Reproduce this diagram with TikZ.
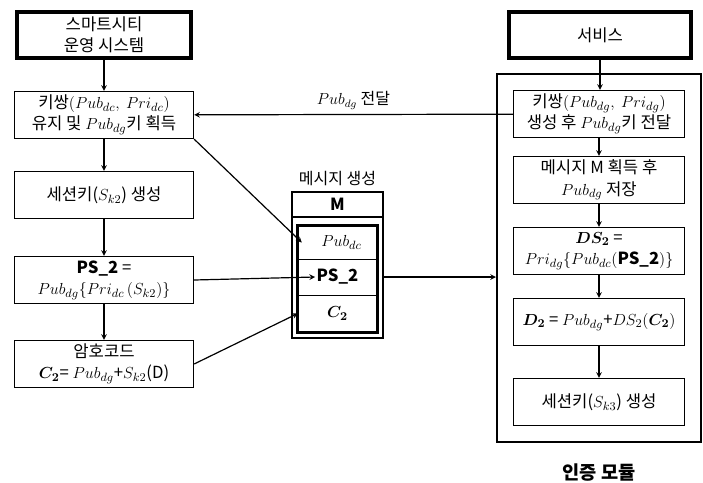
\documentclass[tikz,border=0pt]{standalone}
\usepackage{amsmath}
\usepackage{fontspec}
\setmainfont{Noto Sans CJK KR}
\usetikzlibrary{arrows.meta}

\begin{document}
\begin{tikzpicture}[x=0.75pt, y=-0.75pt,
  flowbox/.style={rectangle, draw, line width=1.2pt, fill=white, align=center, minimum height=35pt, inner sep=1pt, font=\fontsize{12.5}{16}\selectfont},
  leftbox/.style={flowbox, minimum width=134pt},
  rightbox/.style={flowbox, minimum width=128pt},
  topbox/.style={flowbox, line width=3.2pt, minimum height=34pt},
  msgrow/.style={rectangle, draw, line width=0.6pt, minimum width=59pt, inner sep=0pt, font=\fontsize{12.5}{15}\selectfont},
  arrow/.style={->, >=stealth, line width=0.9pt}
]
  \useasboundingbox (0,0) rectangle (703,482);

  % left column
  \node[topbox, minimum width=131pt] (city) at (104,35) {스마트시티\\운영 시스템};
  \node[leftbox] (keypair) at (104,115) {키쌍$(Pub_{dc},\ Pri_{dc})$\\유지 및 $Pub_{dg}$키 획득};
  \node[leftbox] (session) at (104,195) {세션키($S_{k2}$) 생성};
  \node[leftbox] (ps) at (104,280) {\textbf{PS\_2} =\\$Pub_{dg}\{Pri_{dc}\,(S_{k2})\}$};
  \node[leftbox] (cipher) at (104,364) {암호코드\\$\boldsymbol{C_2}$= $Pub_{dg}$+$S_{k2}$(D)};

  % message M
  \node[draw, line width=1.5pt, minimum width=68pt, minimum height=109pt] (mframe) at (337.5,265) {};
  \node[draw, line width=1.5pt, minimum width=68pt, minimum height=19pt, inner sep=0pt, font=\fontsize{12.5}{15}\selectfont\bfseries] (mhead) at (337.5,204.5) {M};
  \node[font=\fontsize{12}{15}\selectfont, anchor=south] (mlabel) at (mhead.north) {메시지 생성};
  \node[msgrow, minimum height=25pt] (mpub) at (337.5,242.5) {\hspace{6pt}$Pub_{dc}$};
  \node[msgrow, minimum height=27pt] (mps) at (337.5,277) {\textbf{PS\_2}};
  \node[msgrow, minimum height=27.5pt] (mc) at (337.5,313.5) {$\boldsymbol{C_2}$};
  \draw[line width=2pt] (mpub.north west) rectangle (mc.south east);

  % authentication module
  \node[draw, line width=1.5pt, minimum width=153pt, minimum height=276pt] (authmod) at (599,258) {};
  \node[font=\fontsize{14}{16}\selectfont\bfseries, anchor=north] (authlabel) at ([yshift=-12pt]authmod.south) {인증 모듈};
  \node[topbox, minimum width=137pt] (service) at (600,35) {서비스};
  \node[rightbox] (gen) at (599,114) {키쌍$(Pub_{dg},\ Pri_{dg})$\\생성 후 $Pub_{dg}$키 전달};
  \node[rightbox] (store) at (599,180) {메시지 M 획득 후\\$Pub_{dg}$ 저장};
  \node[rightbox] (ds) at (599,251) {$\boldsymbol{DS_2}$ =\\$Pri_{dg}\{Pub_{dc}(\text{\textbf{PS\_2}})\}$};
  \node[rightbox] (dtwo) at (599,322) {$\boldsymbol{D_2}$ = $Pub_{dg}$+$DS_2(\boldsymbol{C_2})$};
  \node[rightbox] (session3) at (599,402) {세션키($S_{k3}$) 생성};

  \draw[arrow] (city) -- (keypair);
  \draw[arrow] (keypair) -- (session);
  \draw[arrow] (session) -- (ps);
  \draw[arrow] (ps) -- (cipher);

  \draw[arrow] (keypair.south east) -- ([xshift=3pt]mpub.west);
  \draw[arrow] (ps.east) -- ([xshift=13pt]mps.west);
  \draw[arrow] (cipher.east) -- (mc.west);
  \draw[arrow] (mframe.east |- mps) -- (authmod.west |- mps);

  \draw[arrow] (gen) -- node[above, font=\fontsize{12}{15}\selectfont]{$Pub_{dg}$ 전달} (keypair);
  \draw[arrow] (service) -- (service |- gen.north);
  \draw[arrow] (gen) -- (store);
  \draw[arrow] (store) -- (ds);
  \draw[arrow] (ds) -- (dtwo);
  \draw[arrow] (dtwo) -- (session3);
\end{tikzpicture}
\end{document}
